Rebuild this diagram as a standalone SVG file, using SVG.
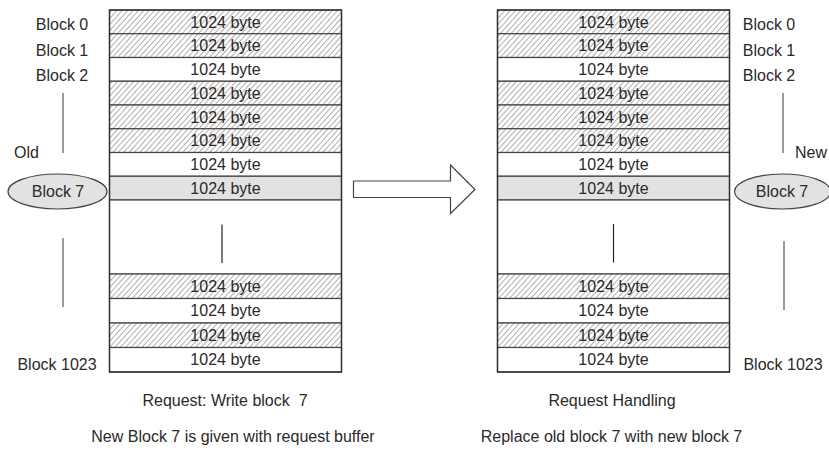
<svg xmlns="http://www.w3.org/2000/svg" width="829" height="452" viewBox="0 0 829 452">
<style>
text{font-family:"Liberation Sans",Arial,sans-serif;font-size:16px;fill:#2a2a2a}
.c{text-anchor:middle}
.h{fill:url(#hatch)}
.w{fill:#fff}
.g{fill:#e2e2e2}
.row{stroke:#444;stroke-width:1.2}
.frame{fill:none;stroke:#333;stroke-width:1.4}
.ln{stroke:#555;stroke-width:1.2}
.dots{stroke:#222;stroke-width:1.2}
.ell{fill:#e2e2e2;stroke:#444;stroke-width:1.2}
</style>
<defs>
<pattern id="hatch" patternUnits="userSpaceOnUse" width="4" height="4" patternTransform="rotate(42)">
<rect width="4" height="4" fill="#fff"/>
<line x1="0.5" y1="0" x2="0.5" y2="4" stroke="#a0a0a0" stroke-width="0.85"/>
</pattern>
<g id="table">
<rect class="row h" x="0" y="10" width="232" height="23.75"/>
<rect class="row h" x="0" y="33.75" width="232" height="23.75"/>
<rect class="row w" x="0" y="57.5" width="232" height="23.75"/>
<rect class="row h" x="0" y="81.25" width="232" height="23.75"/>
<rect class="row h" x="0" y="105" width="232" height="23.75"/>
<rect class="row h" x="0" y="128.75" width="232" height="23.75"/>
<rect class="row w" x="0" y="152.5" width="232" height="23.75"/>
<rect class="row g" x="0" y="176.25" width="232" height="23.75"/>
<rect class="row w" x="0" y="200" width="232" height="74"/>
<rect class="row h" x="0" y="274" width="232" height="24.5"/>
<rect class="row w" x="0" y="298.5" width="232" height="24.5"/>
<rect class="row h" x="0" y="323" width="232" height="24.5"/>
<rect class="row w" x="0" y="347.5" width="232" height="24.5"/>
<rect class="frame" x="0" y="10" width="232" height="362"/>
<text class="c" x="116" y="27.5">1024 byte</text>
<text class="c" x="116" y="51.2">1024 byte</text>
<text class="c" x="116" y="75">1024 byte</text>
<text class="c" x="116" y="98.7">1024 byte</text>
<text class="c" x="116" y="122.5">1024 byte</text>
<text class="c" x="116" y="146.2">1024 byte</text>
<text class="c" x="116" y="170">1024 byte</text>
<text class="c" x="116" y="193.7">1024 byte</text>
<text class="c" x="116" y="291.8">1024 byte</text>
<text class="c" x="116" y="316.3">1024 byte</text>
<text class="c" x="116" y="340.8">1024 byte</text>
<text class="c" x="116" y="365.3">1024 byte</text>
</g>
</defs>
<g id="left-disk">
<use href="#table" x="109.5"/>
<line class="dots" x1="222" y1="224.5" x2="222" y2="263"/>
</g>
<g id="right-disk">
<use href="#table" x="497.5"/>
<line class="dots" x1="613.5" y1="224" x2="613.5" y2="262.5"/>
</g>
<g id="left-labels">
<text class="c" x="62" y="29.5">Block 0</text>
<text class="c" x="62" y="55.5">Block 1</text>
<text class="c" x="62" y="80.5">Block 2</text>
<text x="14" y="158">Old</text>
<text class="c" x="57" y="370">Block 1023</text>
</g>
<g id="old-block7">
<ellipse class="ell" cx="57.5" cy="191.5" rx="49.5" ry="17.5"/>
<text class="c" x="58" y="197">Block 7</text>
</g>
<g id="right-labels">
<text class="c" x="769" y="29.5">Block 0</text>
<text class="c" x="769" y="55.5">Block 1</text>
<text class="c" x="769" y="80.5">Block 2</text>
<text x="795" y="158">New</text>
<text class="c" x="783" y="370">Block 1023</text>
</g>
<g id="new-block7">
<ellipse class="ell" cx="782.5" cy="191.5" rx="48" ry="17.5"/>
<text class="c" x="782" y="197">Block 7</text>
</g>
<g id="connectors">
<line class="ln" x1="63" y1="93" x2="63" y2="153"/>
<line class="ln" x1="63" y1="238" x2="63" y2="307"/>
<line class="ln" x1="783" y1="93" x2="783" y2="153"/>
<line class="ln" x1="784" y1="241" x2="784" y2="310"/>
<polygon points="353.5,181 450.5,181 450.5,165 475,189.5 450.5,213.5 450.5,197.5 353.5,197.5" fill="#fff" stroke="#444" stroke-width="1.2"/>
</g>
<g id="captions">
<text class="c" x="225" y="406">Request: Write block&#160; 7</text>
<text class="c" x="233" y="442">New Block 7 is given with request buffer</text>
<text class="c" x="612" y="406">Request Handling</text>
<text class="c" x="611.5" y="442">Replace old block 7 with new block 7</text>
</g>
</svg>
